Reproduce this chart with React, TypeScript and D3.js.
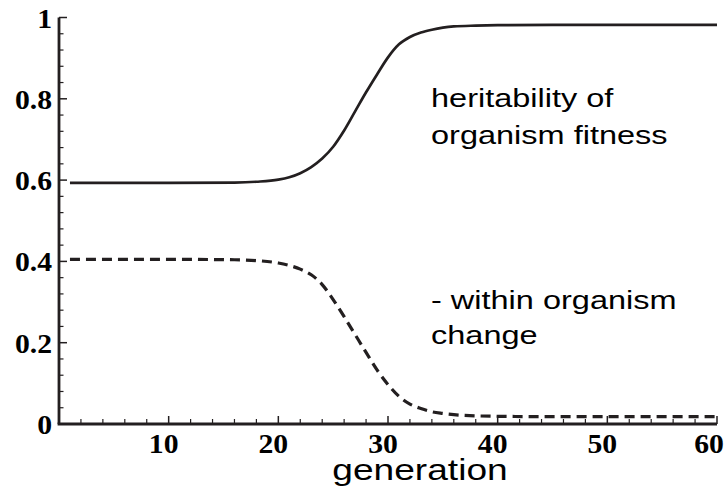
import React from "react";
import * as d3 from "d3";

const generations = [1, 10, 16, 18, 20, 21, 22, 23, 24, 25, 26, 27, 28, 29, 30, 31, 32, 33, 34, 35, 36, 38, 40, 45, 50, 55, 60];
const heritability = [0.593, 0.593, 0.594, 0.596, 0.601, 0.607, 0.617, 0.632, 0.653, 0.682, 0.722, 0.769, 0.816, 0.860, 0.902, 0.934, 0.952, 0.963, 0.970, 0.975, 0.978, 0.980, 0.981, 0.982, 0.982, 0.982, 0.982];
const withinChange = [0.405, 0.405, 0.404, 0.402, 0.396, 0.390, 0.381, 0.367, 0.343, 0.306, 0.264, 0.220, 0.176, 0.133, 0.097, 0.068, 0.049, 0.038, 0.030, 0.026, 0.023, 0.020, 0.019, 0.018, 0.018, 0.018, 0.018];
const xTickLabels = [10, 20, 30, 40, 50, 60];
const yTickLabels = ["0", "0.2", "0.4", "0.6", "0.8", "1"];
const yTickValues = [0, 0.2, 0.4, 0.6, 0.8, 1];
const annotationTop = ["heritability of", "organism fitness"];
const annotationBottom = ["- within organism", "change"];
const xLabel = "generation";

const W = 728;
const H = 501;
const INK = "#231f20";

export default function App() {
  const x = d3.scaleLinear().domain([0, 60]).range([59, 717]);
  const y = d3.scaleLinear().domain([0, 1]).range([424, 17.5]);

  const line = (vals: number[]) =>
    d3
      .line<number>()
      .x((_, i) => x(generations[i]))
      .y((d) => y(d))
      .curve(d3.curveMonotoneX)(vals) || "";

  const xMinor = d3.range(2, 61, 2).filter((v) => v % 10 !== 0);
  const yMinor = d3.range(0.04, 1, 0.04).filter((v) => Math.abs(v / 0.2 - Math.round(v / 0.2)) > 1e-6);

  const serif = "'Liberation Serif', 'Times New Roman', serif";
  const sans = "'Liberation Sans', Arial, sans-serif";
  const sx = 1.1;

  return (
    <svg width={W} height={H} style={{ position: "absolute", left: 0, top: 0, background: "#fff" }}>
      {/* curves */}
      <path d={line(heritability)} fill="none" stroke={INK} strokeWidth={2.7} />
      <path d={line(withinChange)} fill="none" stroke={INK} strokeWidth={3.2} strokeDasharray="10 6" />

      {/* axes */}
      <line x1={x(0)} x2={x(0)} y1={y(1)} y2={y(0)} stroke={INK} strokeWidth={2.8} />
      <line x1={x(0) - 1.4} x2={x(60)} y1={y(0)} y2={y(0)} stroke={INK} strokeWidth={2.8} />

      {xTickLabels.map((v) => (
        <line key={"xM" + v} x1={x(v)} x2={x(v)} y1={y(0)} y2={y(0) - 8} stroke={INK} strokeWidth={1.5} />
      ))}
      {xMinor.map((v) => (
        <line key={"xm" + v} x1={x(v)} x2={x(v)} y1={y(0)} y2={y(0) - 5} stroke={INK} strokeWidth={1.2} />
      ))}
      {yTickValues.map((v) => (
        <line key={"yM" + v} x1={x(0)} x2={x(0) + 8} y1={y(v)} y2={y(v)} stroke={INK} strokeWidth={1.5} />
      ))}
      {yMinor.map((v) => (
        <line key={"ym" + v} x1={x(0)} x2={x(0) + 4.5} y1={y(v)} y2={y(v)} stroke={INK} strokeWidth={1.2} />
      ))}

      {/* tick labels */}
      {xTickLabels.map((v) => (
        <text
          key={"xl" + v}
          transform={`translate(${Math.min(x(v) - 5, 709)},453) scale(${sx},1)`}
          textAnchor="middle"
          fontFamily={serif}
          fontWeight="bold"
          fontSize={27}
          fill="#000"
        >
          {v}
        </text>
      ))}
      {yTickValues.map((v, i) => (
        <text
          key={"yl" + v}
          transform={`translate(52,${y(v) + 10}) scale(${sx},1)`}
          textAnchor="end"
          fontFamily={serif}
          fontWeight="bold"
          fontSize={27}
          fill="#000"
        >
          {yTickLabels[i]}
        </text>
      ))}

      {/* x axis label */}
      <text
        transform={`translate(${(x(0) + x(60)) / 2 + 32},480) scale(1.28,1)`}
        textAnchor="middle"
        fontFamily={sans}
        fontSize={29}
        fill="#000"
      >
        {xLabel}
      </text>

      {/* annotations */}
      {annotationTop.map((t, i) => (
        <text
          key={"at" + i}
          transform={`translate(431,${107 + i * 36.5}) scale(1.3,1)`}
          fontFamily={sans}
          fontSize={25}
          fill="#000"
        >
          {t}
        </text>
      ))}
      {annotationBottom.map((t, i) => (
        <text
          key={"ab" + i}
          transform={`translate(431,${309 + i * 34.5}) scale(1.3,1)`}
          fontFamily={sans}
          fontSize={25}
          fill="#000"
        >
          {t}
        </text>
      ))}
    </svg>
  );
}
